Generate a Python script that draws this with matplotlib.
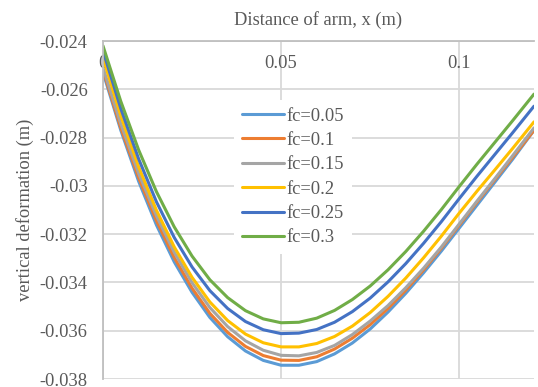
import matplotlib.pyplot as plt

plt.rcParams['font.family'] = ['Liberation Serif', 'DejaVu Serif']

# distance of arm, x (m)
x = [0, 0.005, 0.01, 0.015, 0.02, 0.025, 0.03, 0.035, 0.04, 0.045, 0.05, 0.055,
     0.06, 0.065, 0.07, 0.075, 0.08, 0.085, 0.09, 0.095, 0.1, 0.105, 0.11, 0.115, 0.121]

# vertical deformation (m)
fc_005 = [-0.0253, -0.0277, -0.02981, -0.03162, -0.03315, -0.03441, -0.03545, -0.03625, -0.03684,
          -0.03723, -0.03743, -0.03743, -0.03728, -0.03696, -0.03651, -0.03593, -0.03523, -0.03445,
          -0.0336, -0.0327, -0.03175, -0.0308, -0.02985, -0.0289, -0.0277]
fc_01 = [-0.0252, -0.0276, -0.02966, -0.03144, -0.03297, -0.03424, -0.03528, -0.03607, -0.03665,
         -0.03703, -0.03722, -0.03723, -0.03708, -0.03676, -0.03631, -0.03575, -0.03508, -0.03432,
         -0.03348, -0.03258, -0.03163, -0.03068, -0.02975, -0.02882, -0.0277]
fc_015 = [-0.0251, -0.02743, -0.02948, -0.03124, -0.03275, -0.03401, -0.03504, -0.03583, -0.03642,
          -0.03681, -0.03702, -0.03704, -0.0369, -0.03661, -0.03616, -0.0356, -0.03496, -0.03422,
          -0.03341, -0.03253, -0.03158, -0.03063, -0.0297, -0.02875, -0.0276]
fc_02 = [-0.0247, -0.0271, -0.02921, -0.03101, -0.03253, -0.03379, -0.03481, -0.03558, -0.03614,
         -0.0365, -0.03667, -0.03667, -0.03653, -0.03624, -0.03581, -0.03525, -0.03458, -0.03382,
         -0.03298, -0.03208, -0.03113, -0.03022, -0.02934, -0.02845, -0.02735]
fc_025 = [-0.0244, -0.0268, -0.02888, -0.03066, -0.03214, -0.03336, -0.03434, -0.03508, -0.03562,
          -0.03596, -0.03612, -0.0361, -0.03595, -0.03565, -0.03521, -0.03465, -0.03398, -0.03322,
          -0.03238, -0.03148, -0.03053, -0.0296, -0.0287, -0.0278, -0.0267]
fc_03 = [-0.0242, -0.0265, -0.02851, -0.03024, -0.0317, -0.03291, -0.03389, -0.03463, -0.03517,
         -0.03551, -0.03567, -0.03565, -0.03548, -0.03516, -0.03471, -0.03415, -0.03348, -0.03272,
         -0.03188, -0.03098, -0.03003, -0.0291, -0.0282, -0.0273, -0.0262]

series = [fc_005, fc_01, fc_015, fc_02, fc_025, fc_03]
labels = ['fc=0.05', 'fc=0.1', 'fc=0.15', 'fc=0.2', 'fc=0.25', 'fc=0.3']
colors = ['#5B9BD5', '#ED7D31', '#A5A5A5', '#FFC000', '#4472C4', '#70AD47']

yticks = [-0.038, -0.036, -0.034, -0.032, -0.03, -0.028, -0.026, -0.024]
xticks = [0, 0.05, 0.1]

txt = '#595959'
grid = '#D9D9D9'
fs = 13.3

fig = plt.figure(figsize=(5.38, 3.87), dpi=100)
ax = fig.add_axes([103 / 538, 1 - 379 / 387, 431 / 538, 338 / 387])

for ys, lab, c in zip(series, labels, colors):
    ax.plot(x, ys, color=c, lw=2.2, label=lab,
            solid_capstyle='round', solid_joinstyle='round')

ax.set_xlim(0, 0.121)
ax.set_ylim(-0.038, -0.024)

ax.set_yticks(yticks, ['{:g}'.format(v) for v in yticks])
ax.set_xticks(xticks, ['{:g}'.format(v) for v in xticks])
ax.xaxis.set_ticks_position('top')
ax.tick_params(axis='x', length=0, pad=-22, labelsize=fs, labelcolor=txt)
ax.tick_params(axis='y', length=0, pad=11, labelsize=fs, labelcolor=txt)

ax.grid(True, color=grid, lw=1.3)
ax.set_axisbelow(True)
for s in ['right', 'bottom']:
    ax.spines[s].set_visible(False)
for s in ['left', 'top']:
    ax.spines[s].set_color('#BFBFBF')
    ax.spines[s].set_linewidth(1.3)

ax.set_xlabel('Distance of arm, x (m)', fontsize=fs, color=txt)
ax.xaxis.set_label_position('top')
ax.xaxis.set_label_coords(0.5, 1.047)
ax.set_ylabel('vertical deformation (m)', fontsize=fs, color=txt)
ax.yaxis.set_label_coords(-0.16, 0.5)

leg = ax.legend(loc='center', bbox_to_anchor=(293 / 538, 1 - 177 / 387),
                bbox_transform=fig.transFigure, fontsize=fs, frameon=True,
                handlelength=2.3, handletextpad=0.15, labelspacing=0.4,
                borderpad=0.4, fancybox=False)
leg.get_frame().set_facecolor('white')
leg.get_frame().set_edgecolor('none')
leg.get_frame().set_alpha(1)
for t in leg.get_texts():
    t.set_color(txt)

fig.savefig('out.png', dpi=100)
